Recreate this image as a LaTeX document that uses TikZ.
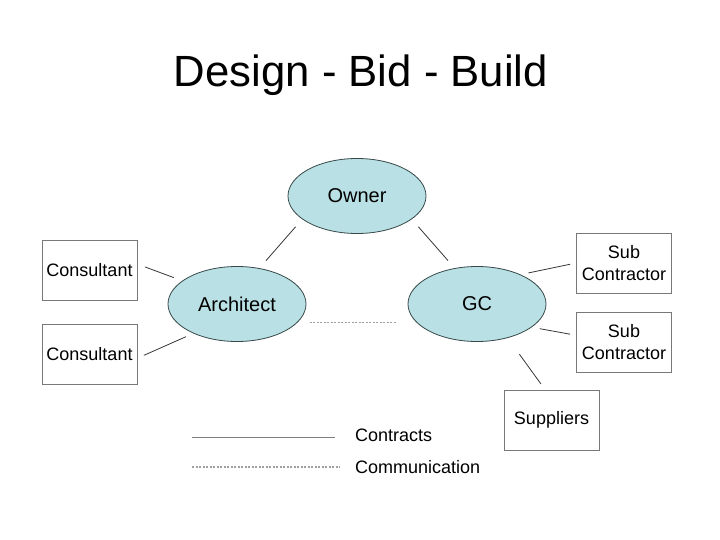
\documentclass[tikz,border=0pt]{standalone}
\usepackage{fontspec}
\setmainfont{Liberation Sans}
\usetikzlibrary{shapes.geometric}
\definecolor{partyfill}{RGB}{185,224,228}
\definecolor{partyline}{RGB}{55,72,74}
\definecolor{boxline}{RGB}{120,120,120}
\definecolor{linkgray}{RGB}{55,55,55}
\definecolor{talkgray}{RGB}{160,160,160}
\begin{document}
\begin{tikzpicture}[x=1pt,y=-1pt,
        party/.style = {draw=partyline, line width=0.8pt, fill=partyfill, ellipse, minimum width=138pt, minimum height=75pt, inner sep=0pt, font=\fontsize{20}{24}\selectfont},
        side/.style = {draw=boxline, line width=0.8pt, rectangle, minimum width=95pt, minimum height=60pt, inner sep=0pt, align=center, font=\fontsize{18}{21.5}\selectfont},
        contract/.style = {draw=linkgray, line width=0.8pt},
        talk/.style = {draw=talkgray, line width=1.1pt, dash pattern=on 2pt off 1.5pt},
        key/.style = {anchor=west, inner sep=0pt, font=\fontsize{18}{21}\selectfont}]
        \useasboundingbox (0,0) rectangle (720,540);
        \node (Title) at (361,75) {\fontsize{43.7}{50}\selectfont Design - Bid - Build};
        \node[party] (Owner) at (357,196) {Owner};
        \node[party] (Architect) at (237,304) {Architect};
        \node[party] (GC) at (477,304) {GC};
        \node[side] (ConsultantA) at (89.5,270) {Consultant};
        \node[side] (ConsultantB) at (89.5,354) {Consultant};
        \node[side] (SubA) at (624,263) {Sub\\Contractor};
        \node[side] (SubB) at (624,342) {Sub\\Contractor};
        \node[side] (Suppliers) at (551.5,420) {Suppliers};
        \draw[contract, shorten <=10pt, shorten >=10pt] (Owner.203) to (Architect.58);
        \draw[contract, shorten <=10pt, shorten >=10pt] (Owner.337) to (GC.122);
        \draw[contract, shorten <=8pt, shorten >=9pt] (ConsultantA.7) to (Architect.157);
        \draw[contract, shorten <=7pt, shorten >=8pt] (ConsultantB.-5) to (Architect.214);
        \draw[contract, shorten <=8pt, shorten >=6pt] (GC.34) to (SubA.west);
        \draw[contract, shorten <=8pt, shorten >=6pt] (GC.337) to (SubB.172);
        \draw[contract, shorten <=20pt, shorten >=7pt] (GC.312) to (Suppliers.102);
        \draw[talk, shorten <=12pt, shorten >=20pt] (Architect.343) to (GC.197);
        \node[key] (Contracts) at (355,435) {Contracts};
        \node[key] (Communication) at (355,467) {Communication};
        \coordinate (ContractsKey) at (192,437);
        \coordinate (CommunicationKey) at (192,467);
        \draw[draw=gray, line width=1pt] (ContractsKey) to ++(143,0);
        \draw[talk] (CommunicationKey) to ++(148,0);
    \end{tikzpicture}
\end{document}
